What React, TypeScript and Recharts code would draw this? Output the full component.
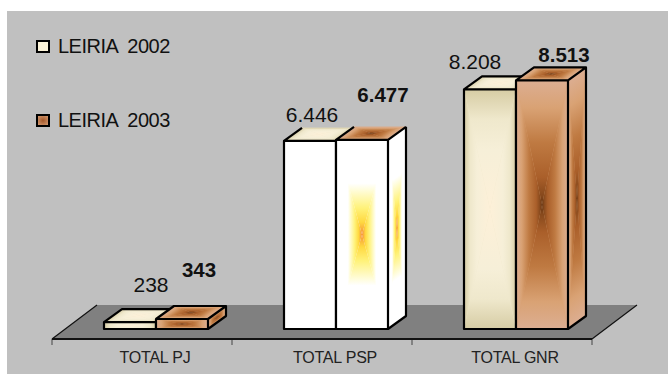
import React from "react";
import { BarChart, Bar, XAxis, YAxis, Legend, LabelList, Customized } from "recharts";

const categories = ["TOTAL PJ", "TOTAL PSP", "TOTAL GNR"];
const leiria2002 = [238, 6446, 8208];
const leiria2003 = [343, 6477, 8513];
const data = categories.map((name, i) => ({ name, leiria2002: leiria2002[i], leiria2003: leiria2003[i] }));

const WIDTH = 668;
const HEIGHT = 374;
const MARGIN = { top: 47, right: 76, bottom: 0, left: 52 };
const AXIS_Y = 339;
const FONT = "'Liberation Sans', Arial, sans-serif";

// bar box is pushed back onto the floor, then extruded
const SHIFT = { x: 14, y: 10 };
const DEPTH = { x: 18, y: 13 };
const FLOOR = { x: 45, y: 34 };

// edge -> centre colour ramps, excel "from center" style fills
const ramps: Record<string, [number, string][]> = {
  cream: [[0, "#d6cca4"], [0.25, "#efe8cc"], [0.5, "#f6efd8"], [1, "#fdf0d8"]],
  brown: [[0, "#dcae92"], [0.22, "#d9a274"], [0.5, "#bf7a42"], [0.78, "#aa5f2a"], [0.93, "#85481c"], [1, "#5f3010"]],
  white: [[0, "#ffffff"], [1, "#ffffff"]],
  glow: [[0, "#ffffff"], [0.46, "#ffffff"], [0.52, "#fffde0"], [0.72, "#fff27a"], [0.87, "#ffd840"], [1, "#f59038"]],
};
const face2002 = ["cream", "white", "cream"];
const face2003 = ["brown", "glow", "brown"];
// the PSP boxes have no dark line along the back of the top
const backEdge = [true, false, true];

const labelNudge2002 = [[21, 37], [2, 26], [-15, 27]];
const labelNudge2003 = [[17, 49], [21, 45], [22, 25]];

function fmt(v: number) {
  return String(v).replace(/\B(?=(\d{3})+$)/g, ".");
}

function Defs() {
  const dirs: Record<string, number[]> = { t: [0, 0, 0, 1], b: [0, 1, 0, 0], l: [0, 0, 1, 0], r: [1, 0, 0, 0] };
  return (
    <defs>
      {Object.keys(ramps).flatMap((k) =>
        Object.keys(dirs).map((d) => (
          <linearGradient key={k + d} id={`${k}-${d}`} x1={dirs[d][0]} y1={dirs[d][1]} x2={dirs[d][2]} y2={dirs[d][3]}>
            {ramps[k].map(([o, c]) => (
              <stop key={o} offset={o} stopColor={c} />
            ))}
          </linearGradient>
        ))
      )}
    </defs>
  );
}

// unit square with four triangles meeting in the middle, mapped on a face
function Face({ ramp, m }: { ramp: string; m: number[] }) {
  const mid = ramps[ramp][1][1];
  return (
    <g transform={`matrix(${m.join(" ")})`}>
      <rect x={0} y={0} width={1} height={1} fill={mid} />
      <polygon points="0,0 1,0 0.5,0.5" fill={`url(#${ramp}-t)`} />
      <polygon points="0,1 1,1 0.5,0.5" fill={`url(#${ramp}-b)`} />
      <polygon points="0,0 0,1 0.5,0.5" fill={`url(#${ramp}-l)`} />
      <polygon points="1,0 1,1 0.5,0.5" fill={`url(#${ramp}-r)`} />
    </g>
  );
}

function Box(props: any, faces: string[], topRamp: string) {
  const { index } = props;
  const w = props.width;
  const h = props.height;
  const x = props.x + SHIFT.x;
  const y = props.y - SHIFT.y;
  const dx = DEPTH.x;
  const dy = DEPTH.y;
  const ramp = faces[index];
  const back = backEdge[index]
    ? `M${x},${y} L${x + dx},${y - dy} H${x + w + dx}`
    : `M${x},${y} L${x + dx},${y - dy} M${x + w + dx},${y - dy}`;
  return (
    <g>
      <Face ramp={ramp} m={[dx, -dy, 0, h, x + w, y]} />
      <Face ramp={topRamp} m={[w, 0, -dx, dy, x + dx, y - dy]} />
      <Face ramp={ramp} m={[w, 0, 0, h, x, y]} />
      <path
        d={`${back} V${y + h - dy} L${x + w},${y + h} M${x + w},${y} L${x + w + dx},${y - dy} M${x},${y} H${x + w} V${y + h} H${x} Z`}
        fill="none"
        stroke="#000"
        strokeWidth={2.2}
        strokeLinejoin="round"
      />
    </g>
  );
}

function Floor() {
  const x0 = MARGIN.left;
  const x1 = WIDTH - MARGIN.right;
  const step = (x1 - x0) / categories.length;
  const ticks = [0, 1, 2, 3].map((i) => x0 + step * i);
  return (
    <g>
      <polygon
        points={`${x0},${AXIS_Y} ${x0 + FLOOR.x},${AXIS_Y - FLOOR.y} ${x1 + FLOOR.x},${AXIS_Y - FLOOR.y} ${x1},${AXIS_Y}`}
        fill="#808080"
      />
      <path d={`M${x0},${AXIS_Y} L${x0 + FLOOR.x},${AXIS_Y - FLOOR.y} M${x1},${AXIS_Y} L${x1 + FLOOR.x},${AXIS_Y - FLOOR.y}`} stroke="#111" strokeWidth={1.2} fill="none" />
      {ticks.map((t) => (
        <line key={t} x1={t} x2={t} y1={AXIS_Y} y2={AXIS_Y + 6} stroke="#444" strokeWidth={1} />
      ))}
    </g>
  );
}

function CategoryTick({ x, y, payload }: any) {
  return (
    <text x={x + SHIFT.x - 1} y={y + 16} textAnchor="middle" fontFamily={FONT} fontSize={16} letterSpacing={-0.2} fill="#222">
      {payload.value}
    </text>
  );
}

function makeLabel(nudges: number[][], bold: boolean) {
  return function ValueLabel({ x, y, width, value, index }: any) {
    return (
      <text
        x={x + SHIFT.x + width / 2 + nudges[index][0]}
        y={y - SHIFT.y - nudges[index][1] + 7}
        textAnchor="middle"
        fontFamily={FONT}
        fontSize={bold ? 20.5 : 21}
        fontWeight={bold ? 700 : 400}
        fill="#111"
      >
        {fmt(value)}
      </text>
    );
  };
}

const swatches: Record<string, string> = {
  "LEIRIA 2002": "#fbf3d8",
  "LEIRIA 2003": "radial-gradient(#a4582a, #d49a70)",
};

function LegendBox({ payload }: any) {
  return (
    <div style={{ position: "relative", fontFamily: FONT, fontSize: 20, color: "#111" }}>
      {(payload || []).map((p: any, i: number) => (
        <div key={p.value} style={{ position: "absolute", left: 36, top: 34 + i * 74, height: 24, display: "flex", alignItems: "center", whiteSpace: "pre" }}>
          <span style={{ width: 14, height: 13, boxSizing: "border-box", border: "2px solid #000", background: swatches[p.value], marginRight: 8 }} />
          <span style={{ letterSpacing: -0.5, wordSpacing: 5 }}>{p.value}</span>
        </div>
      ))}
    </div>
  );
}

export default function App() {
  return (
    <div style={{ position: "absolute", left: 0, top: 0, width: WIDTH, height: HEIGHT, background: "#fff", overflow: "hidden" }}>
      <div style={{ position: "absolute", left: 7, top: 11, right: 0, bottom: 0, background: "#c0c0c0" }} />
      <BarChart width={WIDTH} height={HEIGHT} data={data} margin={MARGIN} barGap={0} barSize={52}>
        <Defs />
        <Customized component={Floor} />
        <XAxis dataKey="name" height={35} tick={<CategoryTick />} tickLine={false} axisLine={{ stroke: "#111", strokeWidth: 2 }} interval={0} />
        <YAxis hide domain={[0, 10000]} />
        <Legend content={<LegendBox />} wrapperStyle={{ left: 0, top: 0, bottom: "auto", width: 200, height: 0 }} />
        <Bar dataKey="leiria2002" name="LEIRIA 2002" isAnimationActive={false} fill="#fbf3d8" shape={(p: any) => Box(p, face2002, "cream")}>
          <LabelList dataKey="leiria2002" content={makeLabel(labelNudge2002, false)} />
        </Bar>
        <Bar dataKey="leiria2003" name="LEIRIA 2003" isAnimationActive={false} fill="#b5682f" shape={(p: any) => Box(p, face2003, "brown")}>
          <LabelList dataKey="leiria2003" content={makeLabel(labelNudge2003, true)} />
        </Bar>
      </BarChart>
    </div>
  );
}
